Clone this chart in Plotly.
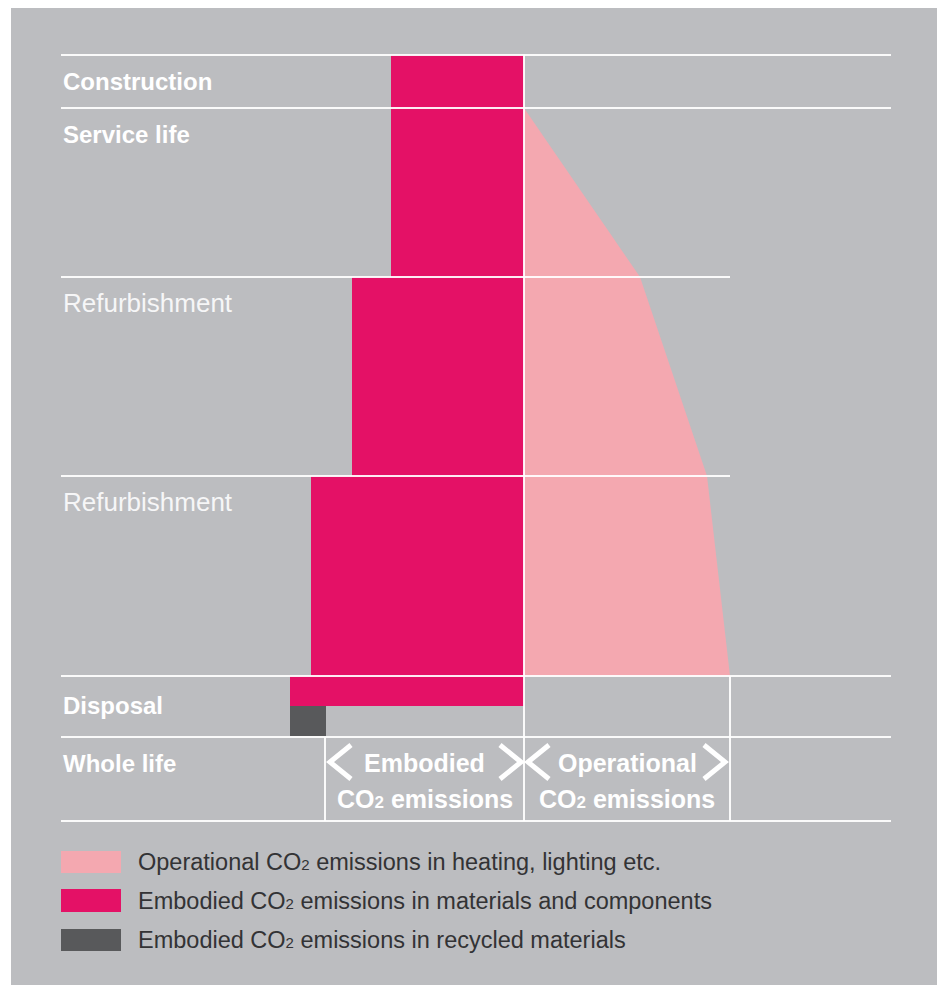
import plotly.graph_objects as go

# ---- data -------------------------------------------------------------
# life-cycle stages (vertical axis runs downward through the building's life)
stage_labels = ["Construction", "Service life", "Refurbishment", "Refurbishment", "Disposal", "Whole life"]
stage_bold = [True, True, False, False, True, True]
stage_bounds = [0.0, 5.3, 22.2, 42.1, 62.1, 68.2, 76.6]   # row boundaries
disposal_split = 65.1                                      # embodied / recycled split in the disposal row

# embodied CO2 per stage (drawn to the left of the centre line)
embodied = [13.3, 13.3, 17.2, 21.3, 23.4]
# embodied CO2 in recycled materials (disposal stage)
recycled = 3.6

# operational CO2 profile at the stage boundaries from start of service life to disposal
operational_t = [5.3, 22.2, 42.1, 62.1]
operational = [0.0, 11.6, 18.3, 20.6]

legend_labels = [
    "Operational CO<span style='font-size:15px'>2</span> emissions in heating, lighting etc.",
    "Embodied CO<span style='font-size:15px'>2</span> emissions in materials and components",
    "Embodied CO<span style='font-size:15px'>2</span> emissions in recycled materials",
]

# ---- styling ----------------------------------------------------------
PANEL = "#BCBDC0"
MAGENTA = "#E41166"
PINK = "#F4A8B0"
DARK = "#58595B"
RULE = "rgba(255,255,255,0.92)"
FONT = "Liberation Sans, Arial, sans-serif"

W, H = 942, 985
ML, MR, MT, MB = 11, 5, 8, 0
SCALE = 10.0          # pixels per chart unit
X0_PX, Y0_PX = 524, 55  # pixel position of the chart origin

def px_x(p):
    return (p - X0_PX) / SCALE

def px_y(p):
    return (p - Y0_PX) / SCALE

x_range = [px_x(ML), px_x(W - MR)]
y_range = [px_y(H - MB), px_y(MT)]

fig = go.Figure()

# embodied bars
tops = stage_bounds[:5]
bottoms = stage_bounds[1:5] + [disposal_split]
fig.add_trace(go.Bar(
    orientation="h",
    y=[(a + b) / 2 for a, b in zip(tops, bottoms)],
    width=[b - a for a, b in zip(tops, bottoms)],
    x=embodied,
    base=[-e for e in embodied],
    marker=dict(color=MAGENTA, line=dict(width=0)),
    hoverinfo="skip", showlegend=False,
))

# recycled materials block
rec_top, rec_bottom = disposal_split, stage_bounds[5] - 0.1
fig.add_trace(go.Bar(
    orientation="h",
    y=[(rec_top + rec_bottom) / 2],
    width=[rec_bottom - rec_top],
    x=[recycled],
    base=[-embodied[-1]],
    marker=dict(color=DARK, line=dict(width=0)),
    hoverinfo="skip", showlegend=False,
))

# operational emissions area
fig.add_trace(go.Scatter(
    x=[0.0] + operational + [0.0],
    y=[operational_t[0]] + operational_t + [operational_t[-1]],
    mode="lines", fill="toself", fillcolor=PINK,
    line=dict(width=0, color=PINK),
    hoverinfo="skip", showlegend=False,
))

shapes = []
left = px_x(61)
right_full = px_x(891)
op_end = operational[-1]

def hline(y, x1):
    shapes.append(dict(type="line", xref="x", yref="y", x0=left, x1=x1, y0=y, y1=y,
                       line=dict(color=RULE, width=2), layer="above"))

def vline(x, y0, y1):
    shapes.append(dict(type="line", xref="x", yref="y", x0=x, x1=x, y0=y0, y1=y1,
                       line=dict(color=RULE, width=2), layer="above"))

for i, yb in enumerate(stage_bounds):
    hline(yb, op_end if i in (2, 3) else right_full)

vline(0.0, stage_bounds[0], stage_bounds[-1])
vline(op_end, stage_bounds[4], stage_bounds[-1])
vline(-embodied[-1] + recycled - 0.1, stage_bounds[5], stage_bounds[-1])

# chevrons around the whole-life headings
def chevron(tip_px, open_px, y_mid_px, half_px=17):
    path = "M {} {} L {} {} L {} {}".format(
        px_x(open_px), px_y(y_mid_px - half_px),
        px_x(tip_px), px_y(y_mid_px),
        px_x(open_px), px_y(y_mid_px + half_px))
    shapes.append(dict(type="path", xref="x", yref="y", path=path,
                       line=dict(color="white", width=5), layer="above"))

chevron(330, 351, 762)
chevron(521, 500, 762)
chevron(528, 549, 762)
chevron(725, 704, 762)

# legend swatches
legend_colors = [PINK, MAGENTA, DARK]
legend_rows = [(851, 873), (889, 912), (929, 951)]
for c, (a, b) in zip(legend_colors, legend_rows):
    shapes.append(dict(type="rect", xref="x", yref="y",
                       x0=px_x(61), x1=px_x(121), y0=px_y(a), y1=px_y(b),
                       fillcolor=c, line=dict(width=0), layer="above"))

annotations = []
# stage labels
label_y_px = [81, 134, 303, 502, 705, 763]
for lab, bold, ypx in zip(stage_labels, stage_bold, label_y_px):
    annotations.append(dict(
        xref="x", yref="y", x=px_x(61), y=px_y(ypx),
        text=f"<b>{lab}</b>" if bold else lab,
        showarrow=False, xanchor="left", yanchor="middle",
        font=dict(family=FONT, size=24 if bold else 26, color="white" if bold else "#F6F6F7"),
    ))

# whole-life headings
sub = "<span style='font-size:17px'>2</span>"
for cx, word in [(424.5, "Embodied"), (627, "Operational")]:
    annotations.append(dict(xref="x", yref="y", x=px_x(cx), y=px_y(763),
                            text=f"<b>{word}</b>", showarrow=False,
                            xanchor="center", yanchor="middle",
                            font=dict(family=FONT, size=25, color="white")))
    annotations.append(dict(xref="x", yref="y", x=px_x(cx), y=px_y(799),
                            text=f"<b>CO{sub} emissions</b>", showarrow=False,
                            xanchor="center", yanchor="middle",
                            font=dict(family=FONT, size=25, color="white")))

# legend text
for lab, (a, b) in zip(legend_labels, legend_rows):
    annotations.append(dict(xref="x", yref="y", x=px_x(136), y=px_y((a + b) / 2),
                            text=lab, showarrow=False, xanchor="left", yanchor="middle",
                            font=dict(family=FONT, size=23.5, color="#333335")))

fig.update_layout(
    width=W, height=H,
    margin=dict(l=ML, r=MR, t=MT, b=MB, pad=0),
    paper_bgcolor="white", plot_bgcolor=PANEL,
    barmode="overlay", bargap=0,
    shapes=shapes, annotations=annotations,
    xaxis=dict(range=x_range, visible=False, fixedrange=True),
    yaxis=dict(range=y_range, visible=False, fixedrange=True),
    showlegend=False,
)

fig.write_html("out.html")
